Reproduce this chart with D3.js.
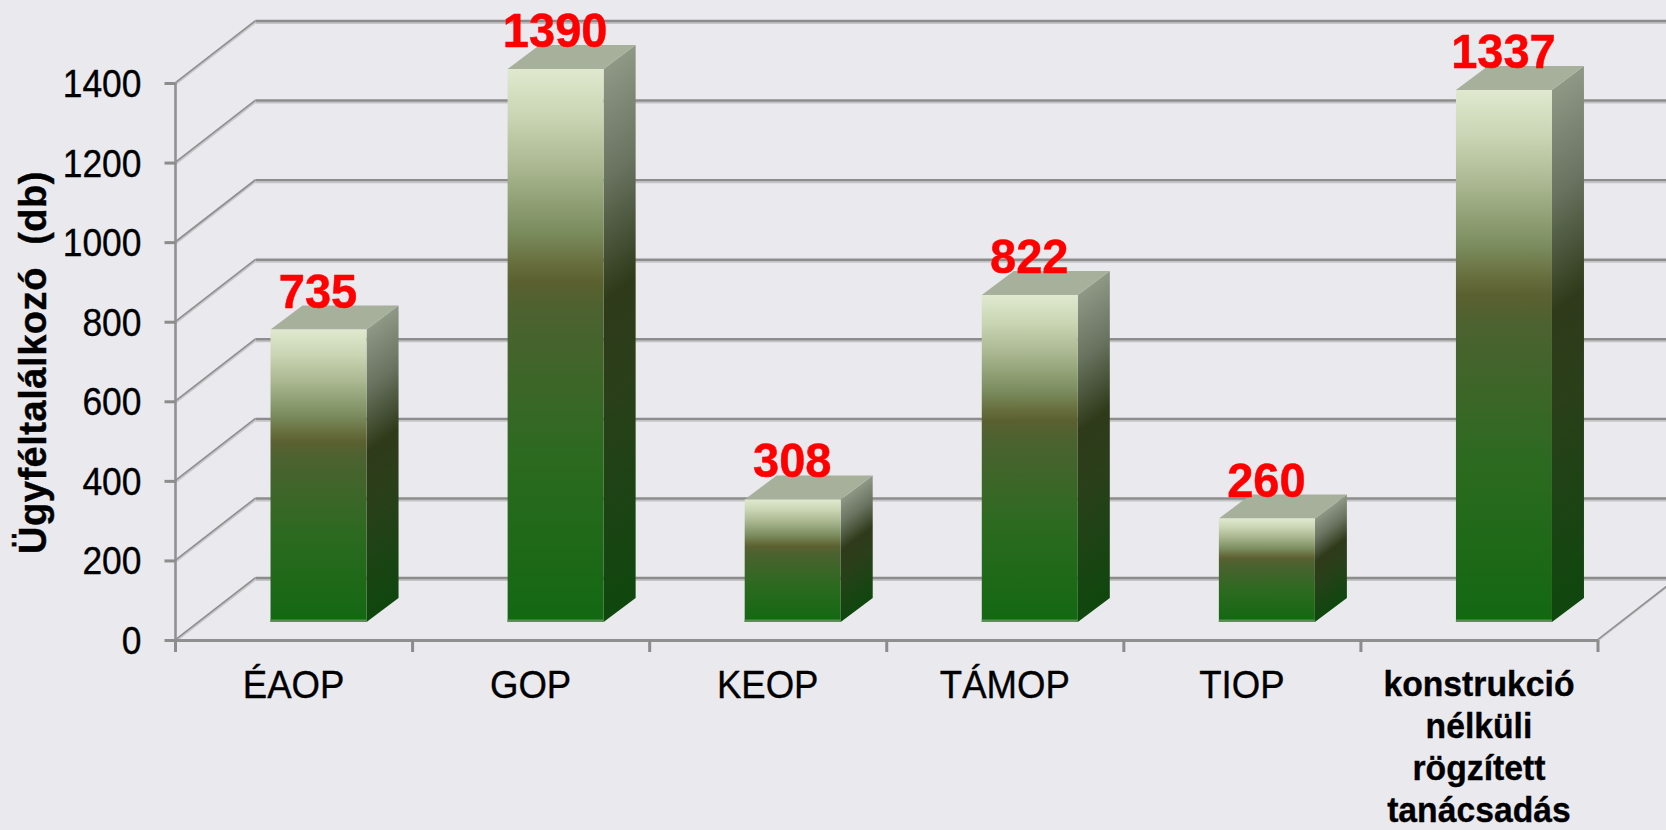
<!DOCTYPE html>
<html><head><meta charset="utf-8">
<script src="https://cdn.jsdelivr.net/npm/d3@7"></script>
<style>
html,body{margin:0;padding:0;background:#e9e9ee;overflow:hidden}
svg{display:block}
text{font-family:"Liberation Sans",Arial,sans-serif;fill:#000}
</style></head><body>
<svg id="c" width="1666" height="830"></svg>
<script>
const categories = ["ÉAOP","GOP","KEOP","TÁMOP","TIOP","konstrukció nélküli rögzített tanácsadás"];
const values = [735,1390,308,822,260,1337];
const yTicks = [0,200,400,600,800,1000,1200,1400];
const yTitle = "Ügyféltalálkozó  (db)";

const frontStops = [[0,"#e0e9cf"],[.09,"#c8d4b2"],[.18,"#a9b68f"],[.29,"#7c8e60"],[.35,"#686f3e"],[.385,"#5b6030"],[.44,"#4c6230"],[.7,"#2c6a20"],[1,"#136812"]];
const sideStops = [[0,"#8f9785"],[.2,"#697360"],[.42,"#2f3a1a"],[.6,"#2a3f1a"],[1,"#0f470e"]];

const left=175.5,right=1598,base=640,topY=83;
const wallX=80,wallY=62,depthX=32,depthY=24,floorGap=18;
const sx=.92, sxValue=.96, sxCat=.95;

const svg=d3.select("#c");
const x=d3.scaleBand().domain(categories).range([left,right]);
const y=d3.scaleLinear().domain([0,1400]).range([base,topY]);
const barW=x.step()*.405, barShift=24.5;
const barX=c=>x(c)+x.step()/2-barW/2+barShift;
const barTop=v=>y(v)-floorGap;
const barBottom=y(0)-floorGap;

// wall grid
const grid=svg.append("g");
grid.selectAll(".gl").data(yTicks).join("line").attr("x1",left+wallX).attr("x2",right+wallX)
  .attr("y1",d=>y(d)-wallY+2).attr("y2",d=>y(d)-wallY+2).attr("stroke","#c4c4c6").attr("stroke-width",2);
grid.selectAll(".gd").data(yTicks).join("line").attr("x1",left+wallX).attr("x2",right+wallX)
  .attr("y1",d=>y(d)-wallY).attr("y2",d=>y(d)-wallY).attr("stroke","#8c8c8c").attr("stroke-width",2.4);
// side wall diagonals
const diag=(g,col,w,off)=>g.append("g").selectAll("line").data(yTicks).join("line")
  .attr("x1",left).attr("y1",d=>y(d)+off).attr("x2",left+wallX).attr("y2",d=>y(d)-wallY+off)
  .attr("stroke",col).attr("stroke-width",w);
diag(grid,"#c6c6c8",2.2,1.2);
diag(grid,"#8f8f8f",1.6,-.4);
grid.append("line").attr("x1",right).attr("y1",base).attr("x2",right+wallX).attr("y2",base-wallY).attr("stroke","#c6c6c8").attr("stroke-width",2.4);
grid.append("line").attr("x1",right).attr("y1",base-.5).attr("x2",right+wallX).attr("y2",base-wallY-.5).attr("stroke","#8f8f8f").attr("stroke-width",1.5);

// gradients
const defs=svg.append("defs");
const addStops=(g,stops)=>g.selectAll("stop").data(stops).join("stop").attr("offset",d=>d[0]).attr("stop-color",d=>d[1]);
addStops(defs.append("linearGradient").attr("id","front").attr("x1",0).attr("y1",0).attr("x2",0).attr("y2",1),frontStops);
values.forEach((v,i)=>{
  const h=barBottom-barTop(v), a=depthY/(h+depthY), k=(1-a)/(1+a*a);
  addStops(defs.append("linearGradient").attr("id","side"+i)
    .attr("x1",0).attr("y1",a).attr("x2",a*k).attr("y2",a+k),sideStops);
});

// bars
const data=categories.map((c,i)=>({c,v:values[i],i}));
const bars=svg.append("g").selectAll("g").data(data).join("g");
bars.append("polygon").attr("fill",d=>`url(#side${d.i})`).attr("points",d=>{
  const X=barX(d.c)+barW,T=barTop(d.v);
  return [[X,T],[X+depthX,T-depthY],[X+depthX,barBottom-depthY],[X,barBottom]].join(" ");
});
bars.append("polygon").attr("fill","#a6b09a").attr("points",d=>{
  const X=barX(d.c),T=barTop(d.v);
  return [[X,T],[X+depthX,T-depthY],[X+barW+depthX,T-depthY],[X+barW,T]].join(" ");
});
bars.append("rect").attr("x",d=>barX(d.c)).attr("y",d=>barTop(d.v)).attr("width",barW)
  .attr("height",d=>barBottom-barTop(d.v)).attr("fill","url(#front)");
bars.append("rect").attr("x",d=>barX(d.c)).attr("y",barBottom-2.5).attr("width",barW).attr("height",2.5).attr("fill","#5b8f56");

// axes
const axisStyle=g=>{g.selectAll("path.domain").attr("stroke","#919191").attr("stroke-width",2.6);
  g.selectAll(".tick line").attr("stroke","#8c8c8c").attr("stroke-width",3);};
const yAxis=svg.append("g").attr("transform",`translate(${left},0)`)
  .call(d3.axisLeft(y).tickValues(yTicks).tickFormat(d3.format("d")).tickSize(11).tickSizeOuter(0).tickPadding(23));
axisStyle(yAxis);
yAxis.select("path.domain").attr("d",`M0,${topY}V${base+12}`);
yAxis.selectAll(".tick text").attr("font-family",null).style("font-size","38.5px").style("font-family",'"Liberation Sans"').attr("fill","#000")
  .attr("stroke","#000").attr("stroke-width",.35)
  .attr("text-anchor","end").attr("x",-34/sx).attr("transform",`scale(${sx},1)`).attr("dy","0.35em");

const xAxis=svg.append("g").attr("transform",`translate(0,${base})`)
  .call(d3.axisBottom(x).tickSize(0).tickSizeOuter(0).tickFormat(""));
xAxis.select("path.domain").attr("stroke","#8f8f8f").attr("stroke-width",3).attr("d",`M${left},0.5H${right}`);
xAxis.append("g").selectAll("line").data(d3.range(categories.length+1)).join("line")
  .attr("x1",i=>left+i*x.step()).attr("x2",i=>left+i*x.step()).attr("y1",0).attr("y2",12)
  .attr("stroke","#8c8c8c").attr("stroke-width",3);

// category labels
const catG=svg.append("g").selectAll("text").data(categories).join("text")
  .attr("text-anchor","middle")
  .attr("stroke","#000").attr("stroke-width",.35)
  .attr("transform",d=>`translate(${x(d)+x.step()/2-.5},${d.includes(" ")?696:698}) scale(${sxCat},1)`)
  .style("font-size",d=>d.includes(" ")?"35.5px":"38.5px")
  .style("font-weight",d=>d.includes(" ")?"bold":"normal");
catG.each(function(d){
  const words=d.split(" ");
  d3.select(this).selectAll("tspan").data(words).join("tspan").attr("x",0).attr("y",(w,i)=>i*42).text(w=>w);
});

// value labels
svg.append("g").selectAll("text").data(data).join("text")
  .attr("text-anchor","middle")
  .attr("stroke","#ff0000").attr("stroke-width",.5)
  .attr("transform",d=>`translate(${barX(d.c)+barW/2-.5},${barTop(d.v)-22}) scale(${sxValue},1)`)
  .style("font-size","49px").style("font-weight","bold").style("fill","#ff0000").text(d=>d.v);

// y title
svg.append("text").attr("text-anchor","middle")
  .attr("stroke","#000").attr("stroke-width",.4)
  .attr("transform",`translate(46,362.5) rotate(-90)`)
  .style("font-size","38px").style("font-weight","bold").style("letter-spacing","0.55px").style("white-space","pre").attr("xml:space","preserve").text(yTitle);
</script></body></html>
